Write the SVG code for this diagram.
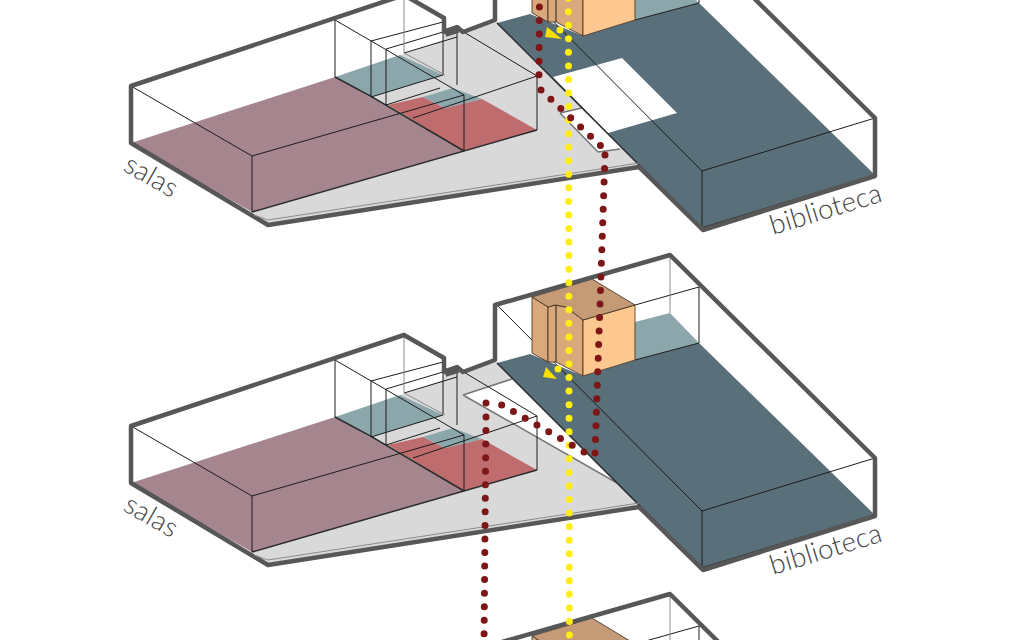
<svg xmlns="http://www.w3.org/2000/svg" width="1024" height="640" viewBox="0 0 1024 640">
<style>
.grey{fill:#d9d9d9}
.mauve{fill:#a5858e}
.tealL{fill:#8ba7ab}
.red{fill:#bf6c6f}
.dark{fill:#596f79}
.tan{fill:#d9a97c;stroke:#3a2a1c;stroke-width:.8}
.peach{fill:#fdc88f;stroke:#3a2a1c;stroke-width:.8}
.roof{fill:#c49b76;stroke:#3a2a1c;stroke-width:.8}
.hole{fill:#fff}
.w{fill:none;stroke:#1c1c1c;stroke-width:1}
.wg{fill:none;stroke:#8a8a8a;stroke-width:1}
.e{fill:none;stroke:#2b2b2b;stroke-width:1.5}
.edgeg{fill:none;stroke:#777;stroke-width:1.5}
.outline{fill:none;stroke:#575757;stroke-width:4.5;stroke-linejoin:round}
.notch{fill:none;stroke:#575757;stroke-width:8}
.ry{fill:none;stroke-linecap:round;stroke-width:7;stroke-dasharray:0 13.55}
.rd{stroke:#7e1517}
.yl{stroke:#ffee10}
.lbl{font-family:"Lato","Open Sans",sans-serif;font-weight:300;font-size:27.5px;fill:#444;letter-spacing:.2px}
</style>
<defs>
<g id="floors">
<polygon class="grey" points="400,395 443,380 443,372 457,368 463,372 497,362 640,505 268,563 252,552 372,437"/>
<polygon class="tealL" points="335,417 400,395 443,415 372,437"/>
<polygon class="red" points="388,445 423,437 445,448 482,439 537,470 464,491"/>
<polygon class="tealL" points="423,437 453,428 482,439 445,448"/>
<polygon class="mauve" points="131,483 335,417 464,491 252,552"/>
<polygon class="tealL" points="670,313 699,343 635,360 635,322"/>
<polygon class="dark" points="497,363 530,354 583,376 635,360 699,343 875,515 702,568"/>
</g>
<g id="over">
<path class="e" d="M252,552L537,470M372,437L464,491M335,417L372,437"/>
<path class="w" d="M131,426L252,496L464,435M252,496V552M335,360V417M371,381V437M386,389V445M443,360V415M457,368V425M464,435V491M537,416V470M413,458L537,416M371,381L443,362M386,389L443,372M404,393L457,377M386,445L440,428M371,437L443,415M457,368L537,416M335,360L464,435"/>
<path class="wg" d="M404,338V393L445,415"/>
<path class="w" d="M497,305L702,511L875,458M702,511V568M635,305L699,287V343M699,343L635,360"/>
<path class="wg" d="M670,254V313"/>
<polygon class="tan" points="532,297 548,307 548,362 532,353"/>
<polygon class="tan" points="548,307 555,305 566,307 583,320 583,376 556,362 548,362"/>
<path class="w" d="M556,305V362"/>
<polygon class="peach" points="583,320 635,305 635,360 583,376"/>
<polygon class="roof" points="532,297 592,279 635,305 583,320 566,307 555,305 548,307"/>
<path class="e" d="M497,363L702,568L875,515"/>
<path class="outline" d="M131,426L404,335L444,358V372L457,367L463,372L495,360V305L670,255L875,458V516L703,570L639,507L268,565L131,483Z"/>
<path class="notch" d="M445,373L458,369"/>
<path class="wg" d="M254,555L268,560L639,503"/>
</g>
</defs>

<g id="building-top" transform="translate(0,-340)">
<use href="#floors"/>
<polygon class="hole" points="553,417 622,398 677,453 608,473"/>
<polygon class="hole" points="560,453 582,448 622,488 598,492"/>
<path class="edgeg" d="M560,453L582,448M598,492L620,489M560,453L598,492"/>
<use href="#over"/>
<text class="lbl" transform="translate(122,510) rotate(30)">salas</text>
<text class="lbl" transform="translate(773,575) rotate(-17)">biblioteca</text>
</g>

<g id="building-middle">
<use href="#floors"/>
<polygon class="hole" points="463,395 512,379 617,483"/>
<path class="edgeg" d="M463,395L512,379M463,395L617,483"/>
<use href="#over"/>
<text class="lbl" transform="translate(122,510) rotate(30)">salas</text>
<text class="lbl" transform="translate(773,575) rotate(-17)">biblioteca</text>
</g>

<g id="building-bottom" transform="translate(0,339)">
<use href="#floors"/>
<use href="#over"/>
</g>

<g id="connectors">
<path class="ry yl" d="M568.4,-1.85L569.4,640"/>
<circle cx="560" cy="30" r="3.5" fill="#ffee10"/>
<circle cx="558" cy="369" r="3.5" fill="#ffee10"/>
<polygon points="547,27 545,37 562,39" fill="#f7e000"/>
<polygon points="546,367 543,377 557,379" fill="#f7e000"/>
<path class="ry rd" d="M539.5,-6.6L539,76"/>
<path class="ry rd" d="M541,90L602,147"/>
<path class="ry rd" d="M605,155L595,454"/>
<path class="ry rd" d="M584,452L501,404.5"/>
<circle cx="486" cy="403" r="3.5" fill="#7e1517"/>
<path class="ry rd" d="M486,417L484,645"/>
</g>
</svg>
